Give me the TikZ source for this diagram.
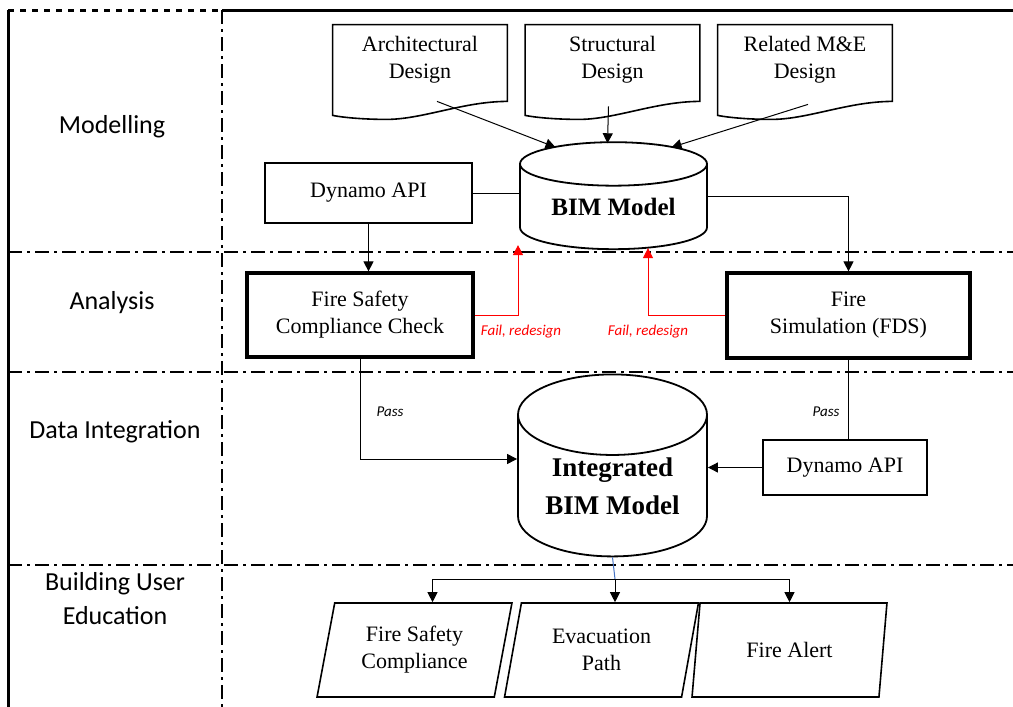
\documentclass[tikz,border=0pt]{standalone}
\usepackage{fontspec}
\setmainfont{Liberation Serif}
\newfontfamily\lanefont{Carlito}
\usetikzlibrary{arrows.meta,shapes.geometric,positioning}

% document outline with a wavy bottom, drawn round a named node
\newcommand{\docshape}[1]{%
\draw[docline] (#1.north west) -- (#1.north east) -- ([yshift=-3pt]#1.south east)
  .. controls ([xshift=-22pt,yshift=-3pt]#1.south east) and ([xshift=45pt,yshift=-12pt]#1.south west) .. ([xshift=27pt,yshift=-12pt]#1.south west)
  .. controls ([xshift=15pt,yshift=-12pt]#1.south west) and ([xshift=5pt,yshift=-11pt]#1.south west) .. ([yshift=-10pt]#1.south west) -- cycle;}

\begin{document}
\begin{tikzpicture}[x=0.5pt, y=-0.5pt,
  font=\fontsize{11}{13.5}\selectfont,
  lane/.style={font=\lanefont\fontsize{13}{17}\selectfont, align=center},
  docbox/.style={minimum width=87pt, minimum height=35pt, align=center, inner sep=0pt},
  docline/.style={line width=0.8pt},
  apibox/.style={draw, line width=0.7pt, align=center, inner sep=0pt},
  checkbox/.style={draw, line width=1.6pt, align=center, inner sep=0pt},
  store/.style={draw, line width=0.9pt, cylinder, shape border rotate=90, align=center, inner sep=0pt, font=\fontsize{12.5}{16}\selectfont\bfseries},
  outbox/.style={draw, line width=0.8pt, trapezium, trapezium left angle=76, trapezium right angle=104, trapezium stretches=true, minimum width=97.5pt, minimum height=47pt, align=center, inner sep=0pt},
  lanesep/.style={line width=1.1pt, dash pattern=on 7pt off 2.5pt on 1.5pt off 2.5pt},
  flow/.style={line width=0.5pt, -{Triangle[length=5pt,width=5pt]}},
  link/.style={line width=0.5pt},
  fail/.style={red, line width=0.5pt, -{Triangle[length=5pt,width=5pt]}},
  note/.style={font=\lanefont\itshape\fontsize{7.5}{9}\selectfont},
]
\useasboundingbox (0,0) rectangle (1013,707);

% frame and swim lanes
\draw[line width=1.5pt] (222,10) -- (1013,10);
\draw[line width=1.5pt, dashed] (8,10) -- (222,10);
\draw[line width=1.5pt] (8,10) -- (8,707);
\draw[lanesep] (222,10) -- (222,707);
\draw[lanesep] (8,252) -- (1013,252);
\draw[lanesep, line width=0.8pt] (8,372) -- (1013,372);
\draw[lanesep] (8,565) -- (1013,565);

\node[lane] (lmod) at (112,127) {Modelling};
\node[lane] (lana) at (112,303) {Analysis};
\node[lane] (lint) at (115,432) {Data Integration};
\node[lane] (ledu) at (115,599) {Building User\\Education};

% modelling
\node[docbox] (arch) at (420,60) {Architectural\\Design};
\node[docbox] (struc) at (612.5,60) {Structural\\Design};
\node[docbox] (mep) at (805,60) {Related M\&E\\Design};
\docshape{arch}
\docshape{struc}
\docshape{mep}

\node[store, minimum width=93.5pt, minimum height=53.5pt, aspect=0.35] (bim) at (613.5,207) {BIM Model};
\node[apibox, minimum width=103.5pt, minimum height=30pt] (dyn1) at (368.5,193) {Dynamo API};

\draw[flow] ([xshift=8.5pt,yshift=-3pt]arch.south) -- ([xshift=-29pt,yshift=-3pt]bim.north);
\draw[flow] ([xshift=-2pt,yshift=-5.5pt]struc.south) -- ([xshift=-3pt,yshift=-1pt]bim.north);
\draw[flow] ([xshift=1.5pt,yshift=-4.5pt]mep.south) -- ([xshift=29pt,yshift=-3pt]bim.north);
\draw[link] (dyn1.east) -- (dyn1.east -| bim.west);

% analysis
\node[checkbox, minimum width=113pt, minimum height=42pt] (fscc) at (360,315) {Fire Safety\\Compliance Check};
\node[checkbox, minimum width=121.5pt, minimum height=42.5pt] (fds) at (848.5,315.5) {Fire\\Simulation (FDS)};

\draw[flow] (dyn1.south) -- (dyn1.south |- fscc.north);
\draw[flow] ([yshift=5.5pt]bim.east) -| (fds.north);
\draw[fail] (fscc.east) -| ([xshift=-47.75pt,yshift=2.5pt]bim.south);
\draw[fail] (fds.west) -| ([xshift=17.25pt,yshift=1pt]bim.south);
\node[note, red] (fail1) at (521,332) {Fail, redesign};
\node[note, red] (fail2) at (648,332) {Fail, redesign};

% data integration
\node[store, minimum width=94.5pt, minimum height=91pt, aspect=0.6, font=\fontsize{13.5}{19}\selectfont\bfseries] (integ) at (612.5,486) {Integrated\\BIM Model};
\node[apibox, minimum width=82pt, minimum height=27.5pt] (dyn2) at (845,467.5) {Dynamo API};

\draw[flow] (fscc.south) |- ([yshift=13.5pt]integ.west);
\draw[link] (fds.south) -- (fds.south |- dyn2.north);
\draw[flow] (dyn2.west) -- (dyn2.west -| integ.east);
\node[note] (pass1) at (390,412) {Pass};
\node[note] (pass2) at (826,412) {Pass};

% building user education
\node[outbox] (ped1) at (414.5,650) {Fire Safety\\Compliance};
\node[outbox] (ped2) at (601.5,650) {Evacuation\\Path};
\node[outbox] (ped3) at (789.5,650) {Fire Alert};

\coordinate (branch) at (615,579);
\draw[link, draw={rgb,255:red,68;green,114;blue,196}] (integ.south) -- (branch);
\draw[flow] (branch) -| ([xshift=9pt]ped1.north);
\draw[flow] (branch) -| (ped3.north);
\draw[flow] (branch) -- (branch |- ped2.north);
\end{tikzpicture}
\end{document}
